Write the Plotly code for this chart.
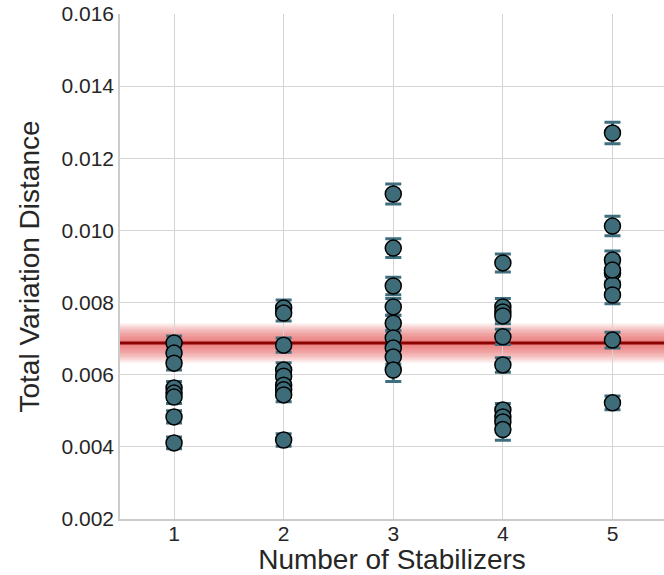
import plotly.graph_objects as go

# Data
stabilizers = [1, 2, 3, 4, 5]
tvd_1 = [0.00688, 0.00660, 0.00632, 0.00563, 0.00549, 0.00538, 0.00483, 0.00411]
err_1 = [0.00019, 0.00019, 0.00019, 0.00018, 0.00018, 0.00018, 0.00017, 0.00016]
tvd_2 = [0.00785, 0.00771, 0.00682, 0.00613, 0.00596, 0.00571, 0.00558, 0.00544, 0.00419]
err_2 = [0.00022, 0.00022, 0.00020, 0.00020, 0.00019, 0.00019, 0.00019, 0.00019, 0.00017]
tvd_3 = [0.01101, 0.00951, 0.00846, 0.00788, 0.00743, 0.00702, 0.00674, 0.00649, 0.00613]
err_3 = [0.00028, 0.00026, 0.00024, 0.00023, 0.00022, 0.00021, 0.00021, 0.00020, 0.00032]
tvd_4 = [0.00910, 0.00788, 0.00774, 0.00763, 0.00705, 0.00627, 0.00502, 0.00483, 0.00469, 0.00448]
err_4 = [0.00025, 0.00023, 0.00023, 0.00022, 0.00021, 0.00020, 0.00018, 0.00018, 0.00018, 0.00030]
tvd_5 = [0.01270, 0.01012, 0.00918, 0.00882, 0.00849, 0.00821, 0.00696, 0.00522, 0.00890]
err_5 = [0.00030, 0.00027, 0.00025, 0.00025, 0.00024, 0.00024, 0.00022, 0.00019, 0.00030]
baseline_mean = 0.00688
baseline_std = 0.00055

groups = [tvd_1, tvd_2, tvd_3, tvd_4, tvd_5]
errs = [err_1, err_2, err_3, err_4, err_5]

fig = go.Figure()

# baseline band (gradient by stacked translucent layers)
n_layers = 14
for i in range(n_layers):
    frac = (i + 1) / n_layers
    fig.add_hrect(y0=baseline_mean - baseline_std * frac, y1=baseline_mean + baseline_std * frac,
                  fillcolor="rgba(228,70,70,0.075)", line_width=0, layer="below")
fig.add_hline(y=baseline_mean, line=dict(color="#8b0000", width=3), layer="below")

xs, ys, es = [], [], []
for s, vals, er in zip(stabilizers, groups, errs):
    xs += [s] * len(vals)
    ys += vals
    es += er

fig.add_trace(go.Scatter(
    x=xs, y=ys, mode="markers",
    error_y=dict(type="data", array=es, visible=True, color="#3f6f7e", thickness=3, width=8),
    marker=dict(size=16, color="#3e6d79", line=dict(color="black", width=1.5)),
    showlegend=False,
))

tick_font = dict(family="Liberation Sans, Arial, sans-serif", size=21, color="#262626")
title_font = dict(family="Liberation Sans, Arial, sans-serif", size=28, color="#262626")
fig.update_layout(
    width=664, height=575,
    margin=dict(l=120, r=0, t=14, b=56, autoexpand=False),
    plot_bgcolor="white", paper_bgcolor="white",
    font=tick_font,
    xaxis=dict(
        range=[0.507, 5.47], tickvals=stabilizers, ticktext=[str(s) for s in stabilizers],
        showgrid=True, gridcolor="#d4d4d4", gridwidth=1, zeroline=False,
        showline=True, linecolor="#cccccc", linewidth=1.5, ticks="",
        title=dict(text="Number of Stabilizers", font=title_font, standoff=0),
        tickfont=tick_font, automargin=False, ticklabelstandoff=-5,
    ),
    yaxis=dict(
        range=[0.002, 0.016], dtick=0.002, tick0=0.002, tickformat=".3f",
        showgrid=True, gridcolor="#d4d4d4", gridwidth=1, zeroline=False,
        showline=True, linecolor="#cccccc", linewidth=1.5, ticks="",
        title=dict(text="Total Variation Distance", font=title_font, standoff=14),
        tickfont=tick_font, automargin=False, ticklabeloverflow="allow",
    ),
)

fig.write_html("out.html", config={"displayModeBar": False},
               post_script="document.body.style.margin='0px';document.body.style.overflow='hidden';")
